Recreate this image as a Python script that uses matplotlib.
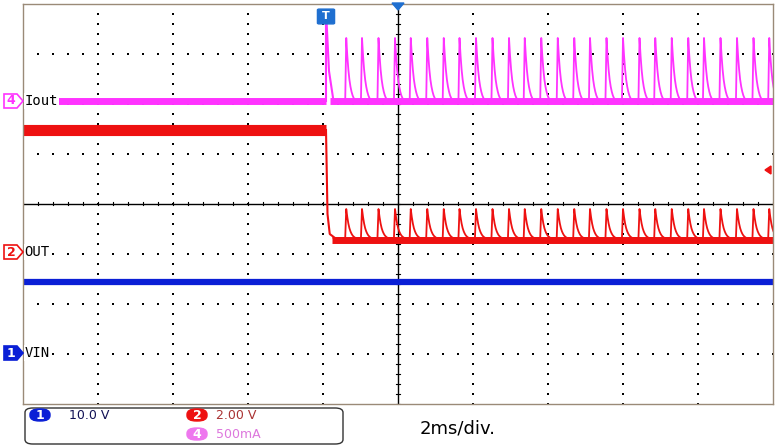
import numpy as np
import matplotlib.pyplot as plt
from matplotlib.patches import FancyBboxPatch, Polygon

# --- data (in divisions; x: -5..5, y: -4..4) ---
trigger_x = -0.96
iout_start = -4.57
iout_base = 2.06
iout_peak = 3.32
iout_trigger_peak = 3.88
out_before = 1.48
out_base = -0.68
out_peak = -0.10
vin_level = -1.56
pulse_times = [-0.69, -0.48, -0.26, -0.04, 0.17, 0.39, 0.61, 0.82, 1.04, 1.26, 1.48, 1.69,
               1.91, 2.13, 2.35, 2.56, 2.78, 3.00, 3.22, 3.43, 3.65, 3.87, 4.08, 4.30,
               4.52, 4.74, 4.95]
pulse_shape = [0.0, 1.0, 0.72, 0.5, 0.34, 0.23, 0.15, 0.09, 0.05, 0.02, 0.0]
shape_step = 0.014
ch_labels = ["Iout", "OUT", "VIN"]
scale_texts = ["10.0 V", "2.00 V", "500mA"]
timebase = "2ms/div."

PINK = "#ff33ff"
RED = "#ee1111"
BLUE = "#0a1fd6"

fig = plt.figure(figsize=(7.8, 4.48), dpi=100)
W, H = 780, 448
ax = fig.add_axes([23 / W, (H - 404) / H, 750 / W, 400 / H])
ax.set_xlim(-5, 5)
ax.set_ylim(-4, 4)
ax.set_xticks([]); ax.set_yticks([])
for s in ax.spines.values():
    s.set_color("#9a8a78"); s.set_linewidth(1)

# grid dots
gx = np.arange(-5, 5.01, 0.2)
gy = np.arange(-4, 4.01, 0.2)
for xv in range(-4, 5):
    if xv != 0:
        ax.scatter(np.full(len(gy), xv), gy, s=0.6, c="k", marker="s", lw=0)
for yv in range(-3, 4):
    if yv != 0:
        ax.scatter(gx, np.full(len(gx), yv), s=0.6, c="k", marker="s", lw=0)
ax.axhline(0, color="k", lw=1)
ax.axvline(0, color="k", lw=1)
for t in gx:
    ax.plot([t, t], [-0.03, 0.03], color="k", lw=0.8)
for t in gy:
    ax.plot([-0.03, 0.03], [t, t], color="k", lw=0.8)

def pulse_trace(base, amp, t0):
    xs, ys = [t0], [base]
    for p in pulse_times:
        for i, v in enumerate(pulse_shape):
            xs.append(p - shape_step + i * shape_step)
            ys.append(base + amp * v)
    xs.append(5); ys.append(base)
    return np.array(xs), np.array(ys)

# Iout
ax.plot([iout_start, trigger_x], [iout_base, iout_base], color=PINK, lw=5, solid_capstyle="butt")
x, y = pulse_trace(iout_base, iout_peak - iout_base, trigger_x + 0.1)
ax.plot(x, y, color=PINK, lw=1.3)
ax.plot([trigger_x + 0.05, 5], [iout_base, iout_base], color=PINK, lw=5, solid_capstyle="butt")
ax.plot([trigger_x, trigger_x, trigger_x + 0.04, trigger_x + 0.1],
        [iout_base, iout_trigger_peak, iout_base + 0.6, iout_base], color=PINK, lw=1.5)

# OUT
ax.plot([-5, trigger_x], [out_before, out_before], color=RED, lw=8, solid_capstyle="butt")
ax.plot([trigger_x, trigger_x + 0.02, trigger_x + 0.05, trigger_x + 0.12],
        [out_before, -0.2, -0.6, out_base], color=RED, lw=1.5)
x, y = pulse_trace(out_base, out_peak - out_base, trigger_x + 0.1)
ax.plot(x, y, color=RED, lw=1.3)
ax.plot([trigger_x + 0.08, 5], [out_base - 0.05, out_base - 0.05], color=RED, lw=5, solid_capstyle="butt")

# VIN
ax.plot([-5, 5], [vin_level, vin_level], color=BLUE, lw=4.5, solid_capstyle="butt")

# channel labels inside plot
for lab, yv in zip(ch_labels, [iout_base, -0.96, -2.98]):
    ax.text(-4.98, yv, lab, fontsize=10, family="DejaVu Sans Mono", va="center", ha="left",
            bbox=dict(facecolor="white", edgecolor="none", pad=0.5))

def fx(px): return px / W
def fy(py): return 1 - py / H
for num, py, c, filled in [("4", 101, PINK, False), ("2", 252, RED, False), ("1", 353, BLUE, True)]:
    poly = Polygon([(fx(4), fy(py - 7)), (fx(17), fy(py - 7)), (fx(23), fy(py)),
                    (fx(17), fy(py + 7)), (fx(4), fy(py + 7))], closed=True,
                   transform=fig.transFigure, facecolor=c if filled else "white",
                   edgecolor=c, lw=1.2)
    fig.add_artist(poly)
    fig.text(fx(11), fy(py), num, color="white" if filled else c, fontsize=9,
             fontweight="bold", ha="center", va="center")

# right red arrow
fig.add_artist(Polygon([(fx(765), fy(170)), (fx(771), fy(166)), (fx(771), fy(174))],
                       transform=fig.transFigure, color=RED))

# trigger marker T and blue triangle at top
fig.add_artist(FancyBboxPatch((fx(319), fy(23)), 14 / W, 13 / H, boxstyle="round,pad=0.002",
                              transform=fig.transFigure, color="#1f6fd0"))
fig.text(fx(326), fy(16), "T", color="white", fontsize=8, fontweight="bold", ha="center", va="center")
fig.add_artist(Polygon([(fx(392), fy(3)), (fx(404), fy(3)), (fx(398), fy(10))],
                       transform=fig.transFigure, color="#1f6fd0"))

# bottom info box
fig.add_artist(FancyBboxPatch((fx(25), fy(444)), 318 / W, 36 / H,
                              boxstyle="round,pad=0,rounding_size=0.01",
                              transform=fig.transFigure, facecolor="white", edgecolor="#333", lw=1))
for num, px, py, c in [("1", 40, 415, BLUE), ("2", 197, 415, RED), ("4", 197, 434, "#ee77ee")]:
    fig.add_artist(FancyBboxPatch((fx(px - 10), fy(py + 6)), 20 / W, 12 / H,
                                  boxstyle="round,pad=0,rounding_size=0.012",
                                  transform=fig.transFigure, color=c))
    fig.text(fx(px), fy(py), num, color="white", fontsize=9, fontweight="bold", ha="center", va="center")
fig.text(fx(69), fy(415), scale_texts[0], color="#111155", fontsize=9, va="center")
fig.text(fx(216), fy(415), scale_texts[1], color="#aa3333", fontsize=9, va="center")
fig.text(fx(216), fy(434), scale_texts[2], color="#dd77dd", fontsize=9, va="center")
fig.text(fx(420), fy(428), timebase, fontsize=13, va="center")

fig.savefig("out.png", dpi=100)
